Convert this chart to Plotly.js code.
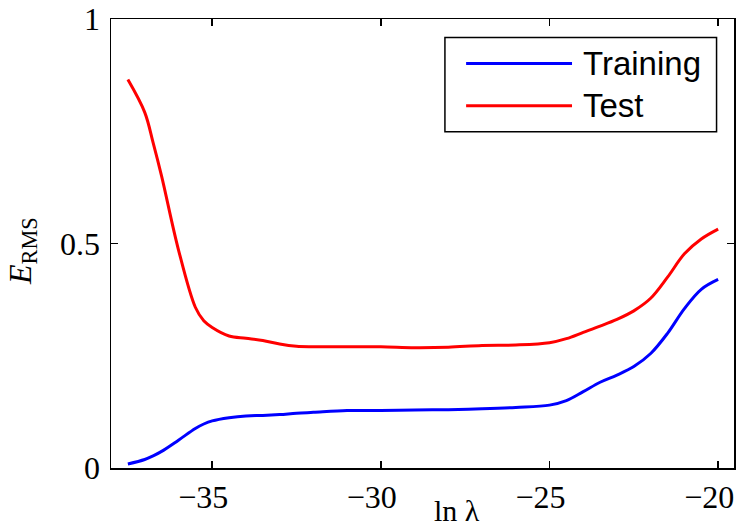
<!DOCTYPE html>
<html>
<head>
<meta charset="utf-8">
<script src="https://cdn.plot.ly/plotly-3.0.1.min.js"></script>
<style>html,body{margin:0;padding:0;background:#fff;}#chart{width:737px;height:526px;}</style>
</head>
<body>
<div id="chart"></div>
<script>
// ln(lambda) sample positions
var lnLambda = [-37.5, -37, -36.75, -36.5, -36, -35.5, -35.25, -35, -34.5, -34, -33.5, -33, -32.5, -32, -31, -30, -29, -28, -27, -26, -25, -24.5, -24, -23.5, -23, -22.5, -22, -21.5, -21, -20.5, -20];
// Training error
var trainingErms = [0.009, 0.019, 0.027, 0.037, 0.062, 0.088, 0.098, 0.105, 0.112, 0.116, 0.117, 0.119, 0.122, 0.124, 0.128, 0.128, 0.129, 0.130, 0.132, 0.135, 0.140, 0.150, 0.170, 0.191, 0.207, 0.226, 0.255, 0.300, 0.355, 0.398, 0.420];
// Test error
var testErms = [0.865, 0.792, 0.724, 0.650, 0.486, 0.358, 0.328, 0.313, 0.294, 0.289, 0.284, 0.276, 0.271, 0.270, 0.270, 0.270, 0.268, 0.269, 0.273, 0.274, 0.279, 0.288, 0.302, 0.316, 0.331, 0.350, 0.378, 0.425, 0.477, 0.510, 0.532];
var seriesNames = ['Training', 'Test'];
var seriesColors = ['#0000ff', '#ff0000'];
var xTicks = [-35, -30, -25, -20];
var yTicks = [0, 0.5, 1];
var yTickText = ['0', '0.5', '1'];

var traces = [
  {x: lnLambda, y: trainingErms, name: seriesNames[0], mode: 'lines',
   line: {color: seriesColors[0], width: 3, shape: 'spline', smoothing: 1}},
  {x: lnLambda, y: testErms, name: seriesNames[1], mode: 'lines',
   line: {color: seriesColors[1], width: 3, shape: 'spline', smoothing: 1}}
];

var serif = 'Liberation Serif, Times New Roman, serif';
var sans = 'Liberation Sans, Arial, sans-serif';

// manual legend (long line samples like the reference)
var lgX0 = 0.570, lgX1 = 0.740, lgTextX = 0.754;
var lgY = [0.901, 0.807];
var shapes = [
  {type: 'rect', xref: 'paper', yref: 'paper', x0: 0.536, x1: 0.972, y0: 0.749, y1: 0.959,
   line: {color: '#000', width: 1.5}, fillcolor: '#fff'}
];
var annotations = [];
for (var i = 0; i < seriesNames.length; i++) {
  shapes.push({type: 'line', xref: 'paper', yref: 'paper', x0: lgX0, x1: lgX1, y0: lgY[i], y1: lgY[i],
    line: {color: seriesColors[i], width: 3}});
  annotations.push({xref: 'paper', yref: 'paper', x: lgTextX, y: lgY[i], xanchor: 'left', yanchor: 'middle',
    text: seriesNames[i], showarrow: false, font: {family: sans, size: 33, color: '#000'}});
}
annotations.push({xref: 'paper', yref: 'paper', x: 0.555, y: -0.095, xanchor: 'center', yanchor: 'middle',
  text: 'ln λ', showarrow: false, font: {family: serif, size: 30, color: '#000'}});
annotations.push({xref: 'paper', yref: 'paper', x: -0.143, y: 0.483, xanchor: 'center', yanchor: 'middle',
  textangle: -90, text: '<i>E</i><sub>RMS</sub>', showarrow: false, font: {family: serif, size: 32, color: '#000'}});

var layout = {
  width: 737, height: 526,
  margin: {l: 111, r: 3, t: 19, b: 58},
  paper_bgcolor: '#fff', plot_bgcolor: '#fff',
  showlegend: false,
  font: {family: serif, size: 32, color: '#000'},
  xaxis: {range: [-38, -19.53], tickvals: xTicks,
    ticks: 'inside', ticklen: 7, tickwidth: 1.5, tickcolor: '#000', ticklabelshift: -9,
    showline: true, linecolor: '#000', linewidth: 1.5, mirror: 'ticks', showgrid: false, zeroline: false,
    tickfont: {family: serif, size: 32, color: '#000'}},
  yaxis: {range: [0, 1], tickvals: yTicks, ticktext: yTickText, ticks: 'inside', ticklen: 7, tickwidth: 1.5, tickcolor: '#000',
    showline: true, linecolor: '#000', linewidth: 1.5, mirror: 'ticks', showgrid: false, zeroline: false,
    ticklabelstandoff: 3,
    tickfont: {family: serif, size: 32, color: '#000'}},
  shapes: shapes,
  annotations: annotations
};
Plotly.newPlot('chart', traces, layout, {displayModeBar: false, staticPlot: true});
</script>
</body>
</html>
